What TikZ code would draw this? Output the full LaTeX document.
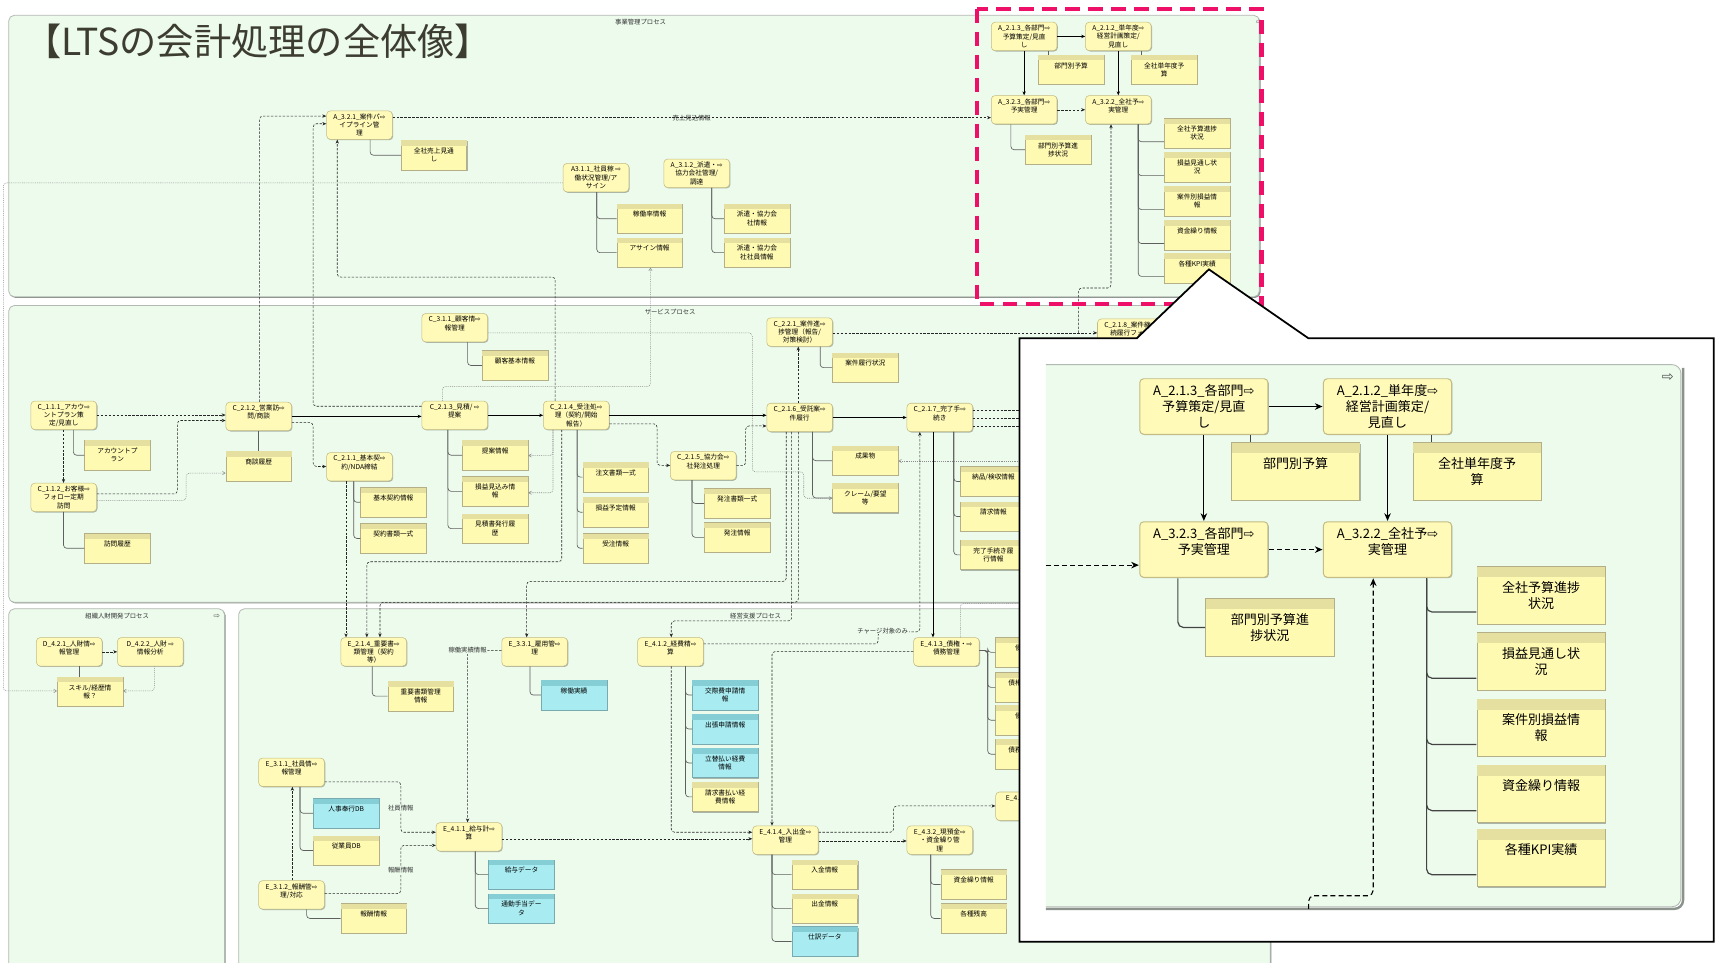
\documentclass[tikz,border=0pt]{standalone}
\usepackage{fontspec}
\setmainfont{Noto Sans CJK JP}
\newfontfamily\symfont{DejaVu Sans}
\usetikzlibrary{arrows.meta,shadows,calc}

\definecolor{frgreen}{RGB}{236,251,236}
\definecolor{frline}{RGB}{178,184,178}
\definecolor{frshade}{RGB}{140,146,140}
\definecolor{procfill}{RGB}{255,250,184}
\definecolor{procline}{RGB}{196,188,130}
\definecolor{datafill}{RGB}{255,250,178}
\definecolor{datahead}{RGB}{230,224,160}
\definecolor{dataline}{RGB}{180,175,135}
\definecolor{cyanfill}{RGB}{168,236,242}
\definecolor{cyanhead}{RGB}{134,206,214}
\definecolor{cyanline}{RGB}{120,170,176}
\definecolor{treecol}{RGB}{95,95,95}
\definecolor{hilite}{RGB}{238,16,104}
\definecolor{titlecol}{RGB}{60,60,48}

\newcommand\nodefont{\fontsize{6.1}{7.6}\selectfont}
\newcommand\lblfont{\fontsize{5.8}{7}\selectfont}
\newcommand\icn{{\symfont ⇨}}

% text layouts of process nodes and data boxes
\newcommand\procbody[1]{\parbox[c][26pt][t]{60pt}{\vspace*{2.6pt}\centering\nodefont #1\par}}
\newcommand\boxbody[2]{\parbox[c][27pt][t]{60pt}{\noindent\textcolor{#1}{\rule{60pt}{5pt}}\par\nointerlineskip\vspace*{1.8pt}\centering\nodefont #2\par}}
\newcommand\procnode[4]{\node[procbox, anchor=north west] (#1) at (#2,#3) {\procbody{#4}};}
\newcommand\datanode[5][data]{\node[#1box, anchor=north west] (#2) at (#3,#4) {\boxbody{#1head}{#5}};}
\newcommand\treeto[3]{\foreach \b in {#3} \draw[tree] (#1.south -| #2,0) |- (\b.west);}

\tikzset{
  frame/.style={fill=frgreen, draw=frline, line width=0.7pt, rounded corners=5pt,
    drop shadow={shadow xshift=1.1pt, shadow yshift=-1.1pt, fill=frshade, opacity=1}},
  procbox/.style={rectangle, rounded corners=3.5pt, fill=procfill, draw=procline, line width=0.5pt, inner sep=0pt,
    drop shadow={shadow xshift=0.8pt, shadow yshift=-0.8pt, fill=black, opacity=0.28}},
  databox/.style={rectangle, fill=datafill, draw=dataline, line width=0.45pt, inner sep=0pt,
    drop shadow={shadow xshift=0.8pt, shadow yshift=-0.8pt, fill=black, opacity=0.28}},
  cyanbox/.style={databox, fill=cyanfill, draw=cyanline},
  tree/.style={draw=treecol, line width=0.6pt, rounded corners=3pt},
  arr/.style={draw=black, line width=0.5pt, -{Stealth[length=3.6pt,width=3pt]}},
  darr/.style={draw=black!85, line width=0.5pt, dash pattern=on 2.2pt off 1.4pt, rounded corners=3pt, -{Stealth[length=3.6pt,width=3pt]}},
  dline/.style={darr, -},
  oarr/.style={draw=black!45, line width=0.5pt, dash pattern=on 0.8pt off 0.9pt, rounded corners=3pt, -{Straight Barb[length=2.4pt,width=3pt]}},
  oline/.style={oarr, -},
  elabel/.style={font=\lblfont, fill=frgreen, inner sep=0.6pt, text=black!80},
  flabel/.style={font=\lblfont, inner sep=0.6pt, text=black!80},
  bigdarr/.style={draw=black, line width=1pt, dash pattern=on 4.6pt off 2.8pt, rounded corners=5pt, -{Stealth[length=7pt,width=6pt]}},
}

% budget planning group (drawn at normal size and enlarged)
\newcommand\budgetgroup{%
  \procnode{a213}{0}{0}{A\_2.1.3\_各部門\icn\\予算策定/見直\\し}
  \procnode{a212}{86}{0}{A\_2.1.2\_単年度\icn\\経営計画策定/\\見直し}
  \datanode{bumonyosan}{43}{30}{部門別予算}
  \datanode{tannendo}{128}{30}{全社単年度予\\算}
  \procnode{a323}{0}{67}{A\_3.2.3\_各部門\icn\\予実管理}
  \procnode{a322}{86}{67}{A\_3.2.2\_全社予\icn\\実管理}
  \datanode{bumonshin}{31}{103}{部門別予算進\\捗状況}
  \datanode{zenshashin}{158}{88}{全社予算進捗\\状況}
  \datanode{sonekimi}{158}{119}{損益見通し状\\況}
  \datanode{ankenson}{158}{150}{案件別損益情\\報}
  \datanode{shikinjo}{158}{181}{資金繰り情報}
  \datanode{kpi}{158}{211}{各種KPI実績}
  \draw[arr] (a213.east) -- (a212.west);
  \coordinate (p1) at ($(bumonyosan.north west)!0.15!(bumonyosan.north east)$);
  \draw[tree] (a213.south -| p1) -- (p1);
  \coordinate (p2) at ($(tannendo.north west)!0.15!(tannendo.north east)$);
  \draw[tree] (a212.south -| p2) -- (p2);
  \draw[arr] (a213.south) -- (a323.north);
  \draw[arr] (a212.south) -- (a322.north);
  \draw[darr] (a323.east) -- (a322.west);
  \coordinate (p3) at ($(a323.south west)!0.3!(a323.south east)$);
  \draw[tree] (p3) |- (bumonshin.west);
  \coordinate (p4) at ($(a322.south west)!0.8!(a322.south east)$);
  \foreach \b in {zenshashin,sonekimi,ankenson,shikinjo,kpi}
    \draw[tree] (p4) |- ($(\b.north west)!0.78!(\b.south west)$);
  \coordinate (p5) at ($(a322.south west)!0.39!(a322.south east)$);
  \coordinate (p6) at ($(a323.north west)!0.77!(a323.south west)$);
}

\begin{document}
\begin{tikzpicture}[x=1pt, y=-1pt]
\path[use as bounding box] (0,0) rectangle (1568,879);
\clip (0,0) rectangle (1568,879);
\fill[white] (0,0) rectangle (1568,879);

% ---------- process frames ----------
\draw[frame] (8,14) rectangle (1150,271);
\draw[frame] (8,279) rectangle (1150,550);
\draw[frame] (8,556) rectangle (205,900);
\draw[frame] (218,556) rectangle (1160,900);
\node[flabel] (lbl1) at (585,20) {事業管理プロセス};
\node[flabel] (lbl2) at (612,285) {サービスプロセス};
\node[flabel] (lbl3) at (107,563) {組織人財開発プロセス};
\node[flabel] (lbl4) at (690,563) {経営支援プロセス};
\node[font=\symfont\fontsize{7}{7}\selectfont, text=black!70, inner sep=0] (ic1) at (1150,20) {⇨};
\node[font=\symfont\fontsize{7}{7}\selectfont, text=black!70, inner sep=0] (ic3) at (198,563) {⇨};

\node[anchor=west, font=\fontsize{34}{38}\selectfont, text=titlecol, inner sep=0] (title) at (22,38) {【LTSの会計処理の全体像】};

% ---------- business management ----------
\procnode{a321}{298}{101}{A\_3.2.1\_案件パ\icn\\イプライン管\\理}
\datanode{uriage}{366}{128}{全社売上見通\\し}
\procnode{a311}{514}{149}{A3.1.1\_社員稼 \icn\\働状況管理/ア\\サイン}
\procnode{a312}{606}{145}{A\_3.1.2\_派遣・\icn\\協力会社管理/\\調達}
\datanode{kadou}{563}{186}{稼働率情報}
\datanode{assign}{563}{217}{アサイン情報}
\datanode{haken}{661}{186}{派遣・協力会\\社情報}
\datanode{hakens}{661}{217}{派遣・協力会\\社社員情報}
\treeto{a321}{338}{uriage}
\treeto{a311}{545}{kadou,assign}
\treeto{a312}{650}{haken,hakens}

\begin{scope}[name prefix=sm, shift={(905,20)}]
  \budgetgroup
\end{scope}

% ---------- service process ----------
\procnode{c111}{28}{366}{C\_1.1.1\_アカウ\icn\\ントプラン策\\定/見直し}
\datanode{acct}{77}{402}{アカウントプ\\ラン}
\procnode{c112}{28}{441}{C\_1.1.2\_お客様\icn\\フォロー定期\\訪問}
\datanode{houmon}{77}{487}{訪問履歴}
\procnode{c212}{206}{367}{C\_2.1.2\_営業訪\icn\\問/商談}
\datanode{shodan}{206}{412}{商談履歴}
\procnode{c211}{298}{413}{C\_2.1.1\_基本契\icn\\約/NDA締結}
\datanode{kihon}{329}{445}{基本契約情報}
\datanode{keiyaku}{329}{478}{契約書類一式}
\procnode{c311}{385}{286}{C\_3.1.1\_顧客情\icn\\報管理}
\datanode{kokyaku}{440}{320}{顧客基本情報}
\procnode{c213}{385}{366}{C\_2.1.3\_見積/ \icn\\提案}
\datanode{teian}{422}{402}{提案情報}
\datanode{sonmikomi}{422}{435}{損益見込み情\\報}
\datanode{mitsumori}{422}{469}{見積書発行履\\歴}
\procnode{c214}{496}{366}{C\_2.1.4\_受注処\icn\\理（契約/開始\\報告）}
\datanode{chumon}{532}{422}{注文書類一式}
\datanode{sonyotei}{532}{454}{損益予定情報}
\datanode{juchu}{532}{487}{受注情報}
\procnode{c215}{612}{412}{C\_2.1.5\_協力会\icn\\社発注処理}
\datanode{hachusho}{643}{446}{発注書類一式}
\datanode{hachu}{643}{477}{発注情報}
\procnode{c221}{700}{290}{C\_2.2.1\_案件進\icn\\捗管理（報告/\\対策検討）}
\datanode{rikou}{760}{322}{案件履行状況}
\procnode{c216}{700}{368}{C\_2.1.6\_受託案\icn\\件履行}
\datanode{seika}{760}{407}{成果物}
\datanode{claim}{760}{441}{クレーム/要望\\等}
\procnode{c217}{828}{368}{C\_2.1.7\_完了手\icn\\続き}
\datanode{nouhin}{877}{426}{納品/検収情報}
\datanode{seikyu}{877}{458}{請求情報}
\datanode{kanryo}{877}{493}{完了手続き履\\行情報}
\procnode{c218}{1002}{291}{C\_2.1.8\_案件継\icn\\続履行フォロ}

\treeto{c111}{67}{acct}
\treeto{c112}{58}{houmon}
\draw[tree] (c212.south -| 236,0) -- (shodan.north -| 236,0);
\treeto{c211}{323}{kihon,keiyaku}
\treeto{c311}{427}{kokyaku}
\treeto{c213}{409}{teian,sonmikomi,mitsumori}
\treeto{c214}{527}{chumon,sonyotei,juchu}
\treeto{c215}{632}{hachusho,hachu}
\treeto{c221}{749}{rikou}
\treeto{c216}{742}{seika,claim}
\treeto{c217}{871}{nouhin,seikyu,kanryo}

\draw[arr] (c212.east) -- (c213.west |- c212.east);
\draw[arr] (c213.east) -- (c214.west |- c213.east);
\draw[arr] (c214.east) -- (c216.west |- c214.east);
\draw[arr] (c216.east) -- (c217.west |- c216.east);

\draw[darr] (c212.north -| 237,0) |- (a321.west |- 0,106);
\draw[darr] (c213.west |- 0,371) -| (286,113) -- (a321.west |- 0,113);
\draw[darr] (c214.north -| 507,0) |- (308,253) -- (a321.south -| 308,0);
\draw[darr] (a321.east |- smp6) -- (smp6) node[flabel, pos=0.5] (uri) {売上見込情報};
\draw[darr] (c111.east |- 0,379) -- (c212.west |- 0,379);
\draw[darr] (c111.south -| 58,0) -- (c112.north -| 58,0);
\draw[darr] (c112.east |- 0,451) -| (162,384) -- (c212.west |- 0,384);
\draw[oarr] (c112.east |- 0,457) -| (170,432) -- (shodan.west |- 0,432);
\draw[darr] (c212.east |- 0,386) -| (286,426) -- (c211.west |- 0,426);
\draw[darr] (c214.east |- 0,387) -| (600,425) -- (c215.west |- 0,425);
\draw[darr] (c215.east |- 0,425) -| (681,389) -- (c216.west |- 0,389);
\draw[darr] (c216.north -| 729,0) -- (c221.south -| 729,0);
\draw[darr] (c221.east |- 0,304) -- (c218.west |- 0,304);
\coordinate (jn) at (985,304);
\draw[darr] (jn) |- (smp5 |- 0,263) -- (smp5);
\foreach \yy in {375,382,389} \draw[dline] (c217.east |- 0,\yy) -- (940,\yy);
\coordinate (sk) at (940,421);
\draw[oarr] (sk) -- (seika.east |- sk);
\draw[oline] (a311.west |- 0,167) -| (3,500);
\draw[oarr] (c213.north -| 404,0) |- (594,353) -- (assign.south -| 594,0);
\draw[oarr] (c214.south -| 505,0) |- (sonmikomi.east |- 0,450);
\draw[oarr] (c214.south -| 505,0) |- (teian.east |- 0,416);
\draw[oarr] (c311.east |- 0,304) -| (687,431) -| (734,455) -- (claim.west |- 0,455);

% ---------- organisation / HR ----------
\procnode{d421}{33}{582}{D\_4.2.1\_人財情\icn\\報管理}
\procnode{d422}{107}{582}{D\_4.2.2\_人財 \icn\\情報分析}
\datanode{skill}{52}{618}{スキル/経歴情\\報？}
\draw[tree] (d421.south -| 72,0) -- (skill.north -| 72,0);
\draw[darr] (d421.east) -- (d422.west);
\draw[oarr] (d422.south -| 141,0) |- (skill.east |- 0,631);
\draw[oarr] (3,500) |- (skill.west |- 0,631);

% ---------- management support ----------
\procnode{e214}{311}{582}{E\_2.1.4\_重要書\icn\\類管理（契約\\等）}
\datanode{juyo}{354}{622}{重要書類管理\\情報}
\procnode{e331}{458}{582}{E\_3.3.1\_雇用管\icn\\理}
\datanode[cyan]{kadoujis}{494}{621}{稼働実績}
\procnode{e311}{236}{692}{E\_3.1.1\_社員情\icn\\報管理}
\datanode[cyan]{jinji}{286}{729}{人事奉行DB}
\datanode{jugyo}{286}{763}{従業員DB}
\procnode{e312}{236}{804}{E\_3.1.2\_報酬管\icn\\理/対応}
\datanode{housyu}{311}{825}{報酬情報}
\procnode{e411}{398}{751}{E\_4.1.1\_給与計\icn\\算}
\datanode[cyan]{kyuyo}{446}{785}{給与データ}
\datanode[cyan]{tsukin}{446}{816}{通勤手当デー\\タ}
\procnode{e412}{582}{582}{E\_4.1.2\_経費精\icn\\算}
\datanode[cyan]{kousai}{632}{621}{交際費申請情\\報}
\datanode[cyan]{shutcho}{632}{652}{出張申請情報}
\datanode[cyan]{tatekae}{632}{683}{立替払い経費\\情報}
\datanode{seikyubarai}{632}{714}{請求書払い経\\費情報}
\procnode{e414}{687}{754}{E\_4.1.4\_入出金\icn\\管理}
\datanode{nyukin}{723}{785}{入金情報}
\datanode{shukkin}{723}{816}{出金情報}
\datanode[cyan]{shiwake}{723}{846}{仕訳データ}
\procnode{e413}{834}{582}{E\_4.1.3\_債権・\icn\\債務管理}
\datanode{dr1}{909}{582}{債権情報}
\datanode{dr2}{909}{614}{債権残高情報}
\datanode{dr3}{909}{644}{債務情報}
\datanode{dr4}{909}{675}{債務残高情報}
\procnode{e4x}{909}{723}{E\_4.4.1\_決算\icn\\管理}
\procnode{e432}{828}{754}{E\_4.3.2\_現預金\icn\\・資金繰り管\\理}
\datanode{shikinguri}{859}{794}{資金繰り情報}
\datanode{zandaka}{859}{825}{各種残高}

\treeto{e214}{340}{juyo}
\treeto{e331}{484}{kadoujis}
\treeto{e311}{274}{jinji,jugyo}
\treeto{e312}{280}{housyu}
\treeto{e411}{434}{kyuyo,tsukin}
\treeto{e412}{626}{kousai,shutcho,tatekae,seikyubarai}
\treeto{e414}{705}{nyukin,shukkin,shiwake}
\treeto{e432}{850}{shikinguri,zandaka}
\foreach \b in {dr1,dr2,dr3,dr4} \draw[tree] (e413.east |- 0,594) -- (902,594) |- (\b.west);

\draw[darr] (c216.south -| 729,0) |- (347,550) -- (e214.north -| 347,0);
\draw[darr] (c216.south -| 718,0) |- (481,531) -- (e331.north -| 481,0);
\draw[darr] (c216.south -| 723,0) |- (613,567) -- (e412.north -| 613,0);
\draw[darr] (c214.south -| 513,0) |- (335,513) -- (e214.north -| 335,0);
\draw[darr] (c211.south -| 316,0) -- (e214.north -| 316,0);
\draw[arr] (c217.south -| 852,0) -- (e413.north -| 852,0);
\draw[darr] (e412.east |- 0,588) -| (802,577) -| (c217.south -| 840,0);
\node[elabel] (charge) at (806,576) {チャージ対象のみ};
\draw[oline] (e413.north -| 877,0) |- (940,551);

\draw[darr] (e331.west |- 0,594) -| (e411.north -| 427,0);
\node[elabel] (kadoulbl) at (427,594) {稼働実績情報};
\draw[darr] (e311.east |- 0,714) -| (366,760) -- (e411.west |- 0,760);
\node[elabel] (shainlbl) at (366,738) {社員情報};
\draw[darr] (e312.east |- 0,816) -| (366,772) -- (e411.west |- 0,772);
\node[elabel] (hoshulbl) at (366,795) {報酬情報};
\draw[darr] (e312.north -| 267,0) -- (e311.south -| 267,0);
\draw[darr] (e411.east |- 0,766) -- (e414.west |- 0,766);
\draw[darr] (e412.south -| 613,0) |- (e414.west |- 0,760);
\draw[darr] (e413.west |- 0,595) -| (e414.north -| 705,0);
\draw[darr] (e414.east |- 0,760) -| (816,736) -- (e4x.west |- 0,736);
\draw[darr] (e414.east |- 0,768) -- (e432.west |- 0,768);

% ---------- highlight and enlarged view ----------
\draw[hilite, line width=3.7pt, dash pattern=on 13pt off 8pt] (892,8) rectangle (1152,278);

\filldraw[fill=white, draw=black, line width=1.6pt, line join=miter]
  (931,309) -- (1038,309) -- (1104,246) -- (1195,309) -- (1565,309) -- (1565,860) -- (931,860) -- cycle;

\fill[frgreen, rounded corners=8pt] (955,333) -- (1535,333) -- (1535,828) -- (955,828);
\draw[frshade, line width=2.2pt, rounded corners=8pt] (1537,336) -- (1537,830) -- (955,830);
\draw[frline, line width=0.8pt, rounded corners=8pt] (955,333) -- (1535,333) -- (1535,828) -- (955,828);
\node[font=\symfont\fontsize{13}{13}\selectfont, text=black!70, inner sep=0] (ic2) at (1523,345) {⇨};

\begin{scope}[name prefix=cl, shift={(1040,345)}, scale=1.95, transform shape,
  tree/.style={draw=treecol!70!black, line width=1.1pt, rounded corners=5pt},
  arr/.style={draw=black, line width=0.9pt, -{Stealth[length=7pt,width=6pt]}},
  darr/.style={bigdarr},
  procbox/.append style={line width=0.9pt},
  databox/.append style={line width=0.8pt}]
  \budgetgroup
\end{scope}
\draw[bigdarr] (clp6 -| 955,0) -- (clp6);
\draw[bigdarr] (1195,830) -- (1195,818) -- (clp5 |- 0,818) -- (clp5);
\end{tikzpicture}
\end{document}
